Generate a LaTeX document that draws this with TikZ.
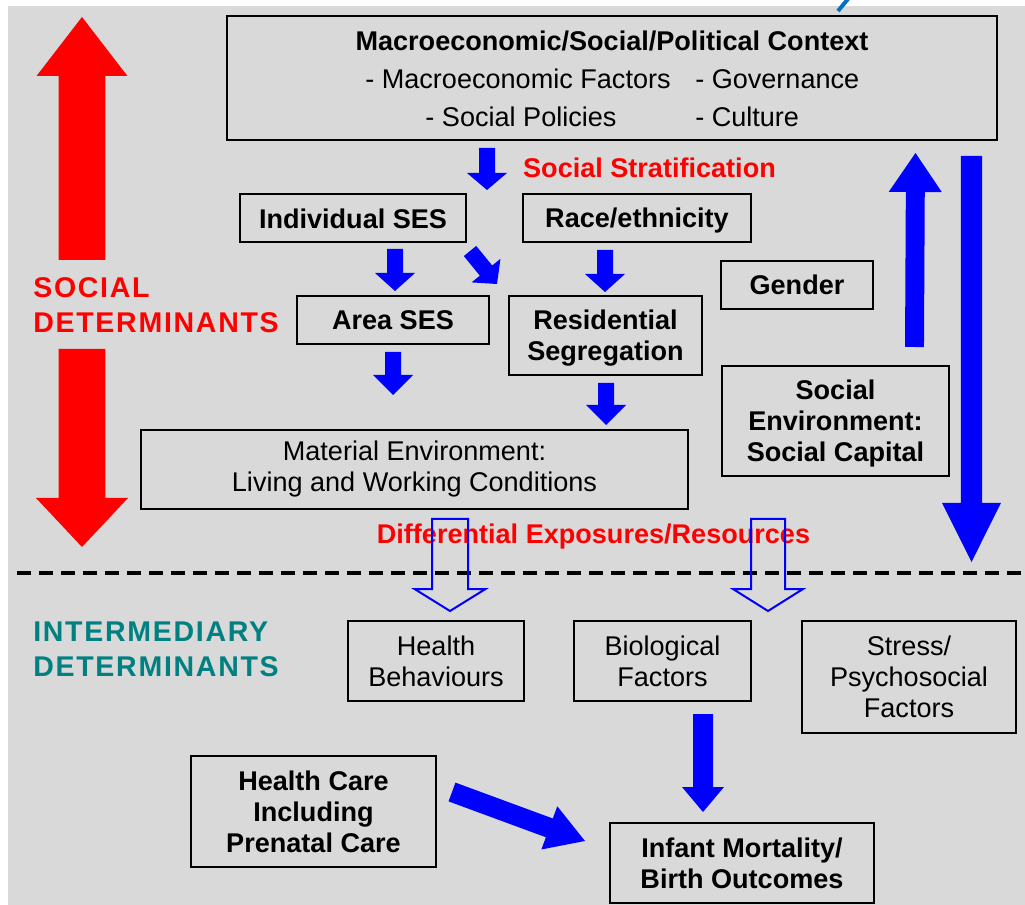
\documentclass[tikz,border=0pt]{standalone}
\usepackage{fontspec}
\setmainfont{Liberation Sans}
\usetikzlibrary{calc}
\definecolor{bg}{RGB}{217,217,217}
\definecolor{bblue}{RGB}{0,0,255}
\definecolor{rred}{RGB}{255,0,0}
\definecolor{tealx}{RGB}{0,128,128}
\definecolor{topblue}{RGB}{0,112,192}
\newcommand\fs{\fontsize{20.3pt}{23.25pt}\selectfont}
\newcommand\fsbig{\fontsize{21.4pt}{26.25pt}\selectfont\addfontfeature{LetterSpace=6}}
% #1 style, #2 start, #3 tip, #4 half shaft, #5 half head, #6 head length
\newcommand\barrow[6]{%
  \coordinate (hb) at ($(#3)!#6!(#2)$);
  \path[#1] ($(#2)!#4!90:(#3)$) -- ($(hb)!#4!-90:(#2)$) -- ($(hb)!#5!-90:(#2)$) -- (#3)
    -- ($(hb)!#5!90:(#2)$) -- ($(hb)!#4!90:(#2)$) -- ($(#2)!#4!-90:(#3)$) -- cycle;}
\tikzset{
  box/.style 2 args={draw, line width=1.5pt, minimum width=#1*0.75pt, minimum height=#2*0.75pt,
    inner sep=0pt, align=center, font=\fs},
  bbox/.style 2 args={box={#1}{#2}, font=\fs\bfseries},
  txt/.style={inner sep=0pt, font=\fs},
  redlbl/.style={inner sep=0pt, font=\fs\bfseries, text=rred},
  sidelbl/.style={inner sep=0pt, font=\fsbig\bfseries, align=left, anchor=west},
  solid arrow/.style={fill=bblue},
  hollow arrow/.style={draw=bblue, line width=1.5pt, line join=miter},
}
\begin{document}
\begin{tikzpicture}[x=0.75pt,y=-0.75pt]
\useasboundingbox (0,0) rectangle (1025,905);
\fill[white] (0,0) rectangle (1025,905);
\fill[bg] (8,6) rectangle (1025,905);
\draw[topblue, line width=3pt] (848,-1) -- (838,11);

% red double arrow (social determinants)
\coordinate (ru1) at (82,260); \coordinate (ru2) at (82,17);
\coordinate (rd1) at (82,349); \coordinate (rd2) at (82,547);
\barrow{fill=rred}{ru1}{ru2}{17.6pt}{34.1pt}{44.25pt}
\barrow{fill=rred}{rd1}{rd2}{17.6pt}{34.5pt}{36.75pt}
\node[sidelbl, text=rred] (socdet) at (33,305.5) {SOCIAL\\DETERMINANTS};
\node[sidelbl, text=tealx] (intdet) at (33,649.5) {INTERMEDIARY\\DETERMINANTS};

% boxes
\node[box={770}{124}] (macro) at (612,78) {};
\node[txt, font=\fs\bfseries] (mtitle) at (612,41) {Macroeconomic/Social/Political Context};
\node[txt] (m1) at (518,79) {- Macroeconomic Factors};
\node[txt, anchor=west] (m2) at (695,79) {- Governance};
\node[txt] (m3) at (521,117) {- Social Policies};
\node[txt, anchor=west] (m4) at (695,117) {- Culture};

\node[bbox={226}{48}] (indses) at (353,218.5) {Individual SES};
\node[bbox={228}{48}, text height=14.5pt, text depth=0pt] (race) at (637,218) {Race/ethnicity};
\node[bbox={152}{48}] (gender) at (797,285) {Gender};
\node[bbox={192}{48}] (area) at (393,320) {Area SES};
\node[bbox={193}{79}, text depth=0pt] (resseg) at (605.5,335.5) {Residential\\Segregation};
\node[box={547}{79}] (material) at (414.5,469.5) {Material Environment:\\Living and Working Conditions};
\node[bbox={227}{110}, text depth=0pt] (socenv) at (835.5,421) {Social\\Environment:\\Social Capital};
\node[box={176}{80}] (hbeh) at (436,661) {Health\\Behaviours};
\node[box={177}{80}] (bio) at (662.5,661) {Biological\\Factors};
\node[box={214}{112}] (stress) at (909,677) {Stress/\\Psychosocial\\Factors};
\node[bbox={245}{111}] (hcare) at (313.5,811.5) {Health Care\\Including\\Prenatal Care};
\node[bbox={264}{80}] (infant) at (742,863) {Infant Mortality/\\Birth Outcomes};

\node[redlbl] (strat) at (649.5,168) {Social Stratification};
\node[redlbl] (diffexp) at (593.5,537) {Differential Exposures/Resources};

% small blue arrows
\coordinate (a1s) at ($(macro.south)+(-125,7)$); \coordinate (a1e) at ($(macro.south)+(-125,49)$);
\barrow{solid arrow}{a1s}{a1e}{6pt}{15pt}{12.75pt}
\coordinate (a2s) at (395,249); \coordinate (a2e) at (395,291);
\barrow{solid arrow}{a2s}{a2e}{6pt}{15pt}{13.5pt}
\coordinate (a3s) at (470,251); \coordinate (a3e) at (497,284);
\barrow{solid arrow}{a3s}{a3e}{6pt}{14pt}{13pt}
\coordinate (a4s) at (605,250); \coordinate (a4e) at (605,292);
\barrow{solid arrow}{a4s}{a4e}{6pt}{15pt}{13.5pt}
\coordinate (a5s) at (393,352); \coordinate (a5e) at (393,395);
\barrow{solid arrow}{a5s}{a5e}{6pt}{15pt}{15pt}
\coordinate (a6s) at (606,383); \coordinate (a6e) at (606,425);
\barrow{solid arrow}{a6s}{a6e}{6pt}{15pt}{15pt}

% big blue arrows on the right
\coordinate (bu1) at (914.5,347); \coordinate (bu2) at (915.5,153);
\barrow{solid arrow}{bu1}{bu2}{7.1pt}{19.9pt}{29.25pt}
\coordinate (bd1) at (971.5,156); \coordinate (bd2) at (971.5,562);
\barrow{solid arrow}{bd1}{bd2}{7.9pt}{22.1pt}{44.25pt}

% lower arrows
\coordinate (c1s) at (703,714); \coordinate (c1e) at (703,812);
\barrow{solid arrow}{c1s}{c1e}{7.5pt}{15.75pt}{18.75pt}
\coordinate (c2s) at (452,792); \coordinate (c2e) at (585,841);
\barrow{solid arrow}{c2s}{c2e}{7.5pt}{17.25pt}{28.5pt}

% dashed divider
\coordinate (dl) at (17,573); \coordinate (dr) at (1025,573);
\draw[line width=3pt, dash pattern=on 10.5pt off 6pt] (dl) -- (dr);

% hollow arrows
\coordinate (h1s) at (450,519); \coordinate (h1e) at (450,611);
\barrow{hollow arrow}{h1s}{h1e}{13.5pt}{26.6pt}{16.5pt}
\coordinate (h2s) at (768,519); \coordinate (h2e) at (768,611);
\barrow{hollow arrow}{h2s}{h2e}{12.75pt}{26.25pt}{16.5pt}
\end{tikzpicture}
\end{document}
